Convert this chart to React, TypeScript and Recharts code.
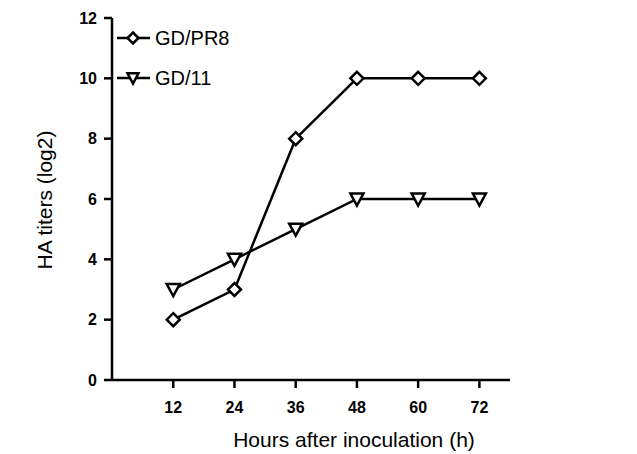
import { LineChart, Line, XAxis, YAxis } from 'recharts'

const hours = [12, 24, 36, 48, 60, 72]
const gdPr8 = [2, 3, 8, 10, 10, 10]
const gd11 = [3, 4, 5, 6, 6, 6]
const yTicks = [0, 2, 4, 6, 8, 10, 12]

const data = hours.map((h, i) => ({ hour: h, pr8: gdPr8[i], gd11: gd11[i] }))

const FONT = 'Liberation Sans, Arial, sans-serif'

// hollow diamond marker (size is ours, recharts' own r is ignored)
const Diamond = (props: any) => {
  const { cx, cy, index, size = 6.5 } = props
  if (cx == null || cy == null) return null
  const r = size
  return (
    <path
      key={`d-${index}`}
      d={`M${cx},${cy - r} L${cx + r},${cy} L${cx},${cy + r} L${cx - r},${cy} Z`}
      fill="#fff"
      stroke="#000"
      strokeWidth={2.5}
    />
  )
}

// hollow down-pointing triangle marker
const Triangle = (props: any) => {
  const { cx, cy, index, size = 6.5 } = props
  if (cx == null || cy == null) return null
  const r = size
  return (
    <path
      key={`t-${index}`}
      d={`M${cx - r},${cy - r * 0.85} L${cx + r},${cy - r * 0.85} L${cx},${cy + r} Z`}
      fill="#fff"
      stroke="#000"
      strokeWidth={2.5}
    />
  )
}

function Overlay() {
  const items = [
    { name: 'GD/PR8', Marker: Diamond, y: 38 },
    { name: 'GD/11', Marker: Triangle, y: 78 },
  ]
  return (
    <svg width={637} height={454} style={{ position: 'absolute', left: 0, top: 0, pointerEvents: 'none' }}>
      {items.map(({ name, Marker, y }) => (
        <g key={name}>
          <line x1={117} x2={150} y1={y} y2={y} stroke="#000" strokeWidth={2.5} />
          <Marker cx={133} cy={y} index={0} size={5.5} />
          <text x={155} y={y + 7} fontFamily={FONT} fontSize={20} fill="#000">
            {name}
          </text>
        </g>
      ))}
      <text x={354} y={447} textAnchor="middle" fontFamily={FONT} fontSize={21} fill="#000">
        Hours after inoculation (h)
      </text>
      <text
        x={0}
        y={0}
        transform="translate(52,200) rotate(-90)"
        textAnchor="middle"
        fontFamily={FONT}
        fontSize={21}
        fill="#000"
      >
        HA titers (log2)
      </text>
    </svg>
  )
}

export default function App() {
  return (
    <div style={{ position: 'absolute', left: 0, top: 0, width: 637, height: 454, background: '#fff' }}>
      <LineChart
        width={637}
        height={454}
        data={data}
        margin={{ top: 18, right: 127, bottom: 0, left: 0 }}
      >
        <XAxis
          dataKey="hour"
          type="number"
          domain={[0, 78]}
          ticks={hours}
          axisLine={{ stroke: '#000', strokeWidth: 2.5 }}
          tickLine={{ stroke: '#000', strokeWidth: 2.5 }}
          tickSize={8}
          tickMargin={14}
          height={74}
          tick={{ fill: '#000', fontSize: 16, fontWeight: 700, fontFamily: FONT }}
        />
        <YAxis
          type="number"
          domain={[0, 12]}
          ticks={yTicks}
          width={112}
          axisLine={{ stroke: '#000', strokeWidth: 2.5 }}
          tickLine={{ stroke: '#000', strokeWidth: 2.5 }}
          tickSize={8}
          tickMargin={7}
          tick={{ fill: '#000', fontSize: 16, fontWeight: 700, fontFamily: FONT }}
        />
        <Line
          dataKey="pr8"
          stroke="#000"
          strokeWidth={2.5}
          dot={Diamond}
          activeDot={false}
          isAnimationActive={false}
        />
        <Line
          dataKey="gd11"
          stroke="#000"
          strokeWidth={2.5}
          dot={Triangle}
          activeDot={false}
          isAnimationActive={false}
        />
      </LineChart>
      <Overlay />
    </div>
  )
}
